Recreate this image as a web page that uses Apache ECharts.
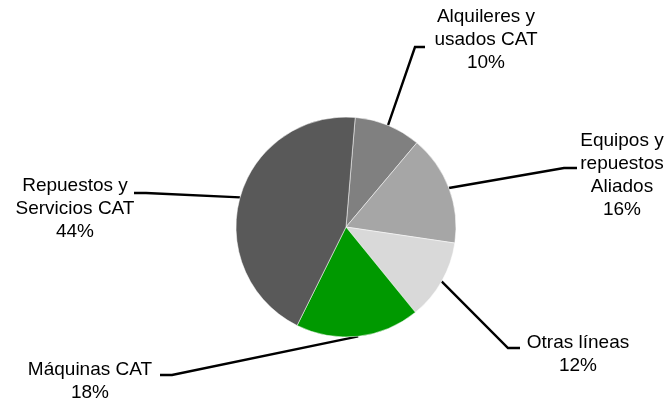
<!DOCTYPE html>
<html><head><meta charset="utf-8">
<script src="https://cdn.jsdelivr.net/npm/echarts@6/dist/echarts.min.js"></script>
<style>html,body{margin:0;padding:0;background:#fff}#c{width:668px;height:402px}</style>
</head><body><div id="c"></div>
<script>
const categories = ['Alquileres y\nusados CAT', 'Equipos y\nrepuestos\nAliados', 'Otras líneas', 'Máquinas CAT', 'Repuestos y\nServicios CAT'];
const values = [9.8, 16.2, 11.8, 18.2, 44.0];
const colors = ['#808080', '#a6a6a6', '#d9d9d9', '#009900', '#595959'];
// label layout: [labelX, labelY, bendX, bendY, endX, endY]
const labelPos = [
  [486, 40, 415, 47, 425, 47],
  [622, 175, 564, 168, 577, 168],
  [578, 354, 508, 348, 520, 348],
  [90, 381, 172, 375, 160, 375],
  [75, 209, 146, 193, 134, 193]
];
const chart = echarts.init(document.getElementById('c'), null, {renderer: 'canvas'});
chart.setOption({
  backgroundColor: '#fff',
  animation: false,
  series: [{
    type: 'pie',
    center: [346, 227],
    radius: 110,
    startAngle: 85.2,
    clockwise: true,
    percentPrecision: 0,
    avoidLabelOverlap: false,
    data: categories.map((n, i) => ({name: n, value: values[i], itemStyle: {color: colors[i]}})),
    itemStyle: {borderColor: '#ffffff', borderWidth: 0.5},
    label: {
      show: true, position: 'outside', formatter: '{b}\n{d}%',
      fontFamily: 'Liberation Sans', fontSize: 19, lineHeight: 23, color: '#000'
    },
    labelLine: {show: true, length: 10, length2: 10, lineStyle: {color: '#000', width: 2.4}},
    labelLayout: function (p) {
      const L = labelPos[p.dataIndex];
      const pts = p.labelLinePoints;
      return {
        x: L[0], y: L[1], align: 'center', verticalAlign: 'middle',
        labelLinePoints: [pts[0], [L[2], L[3]], [L[4], L[5]]]
      };
    },
    emphasis: {disabled: true}
  }]
});
</script>
</body></html>
